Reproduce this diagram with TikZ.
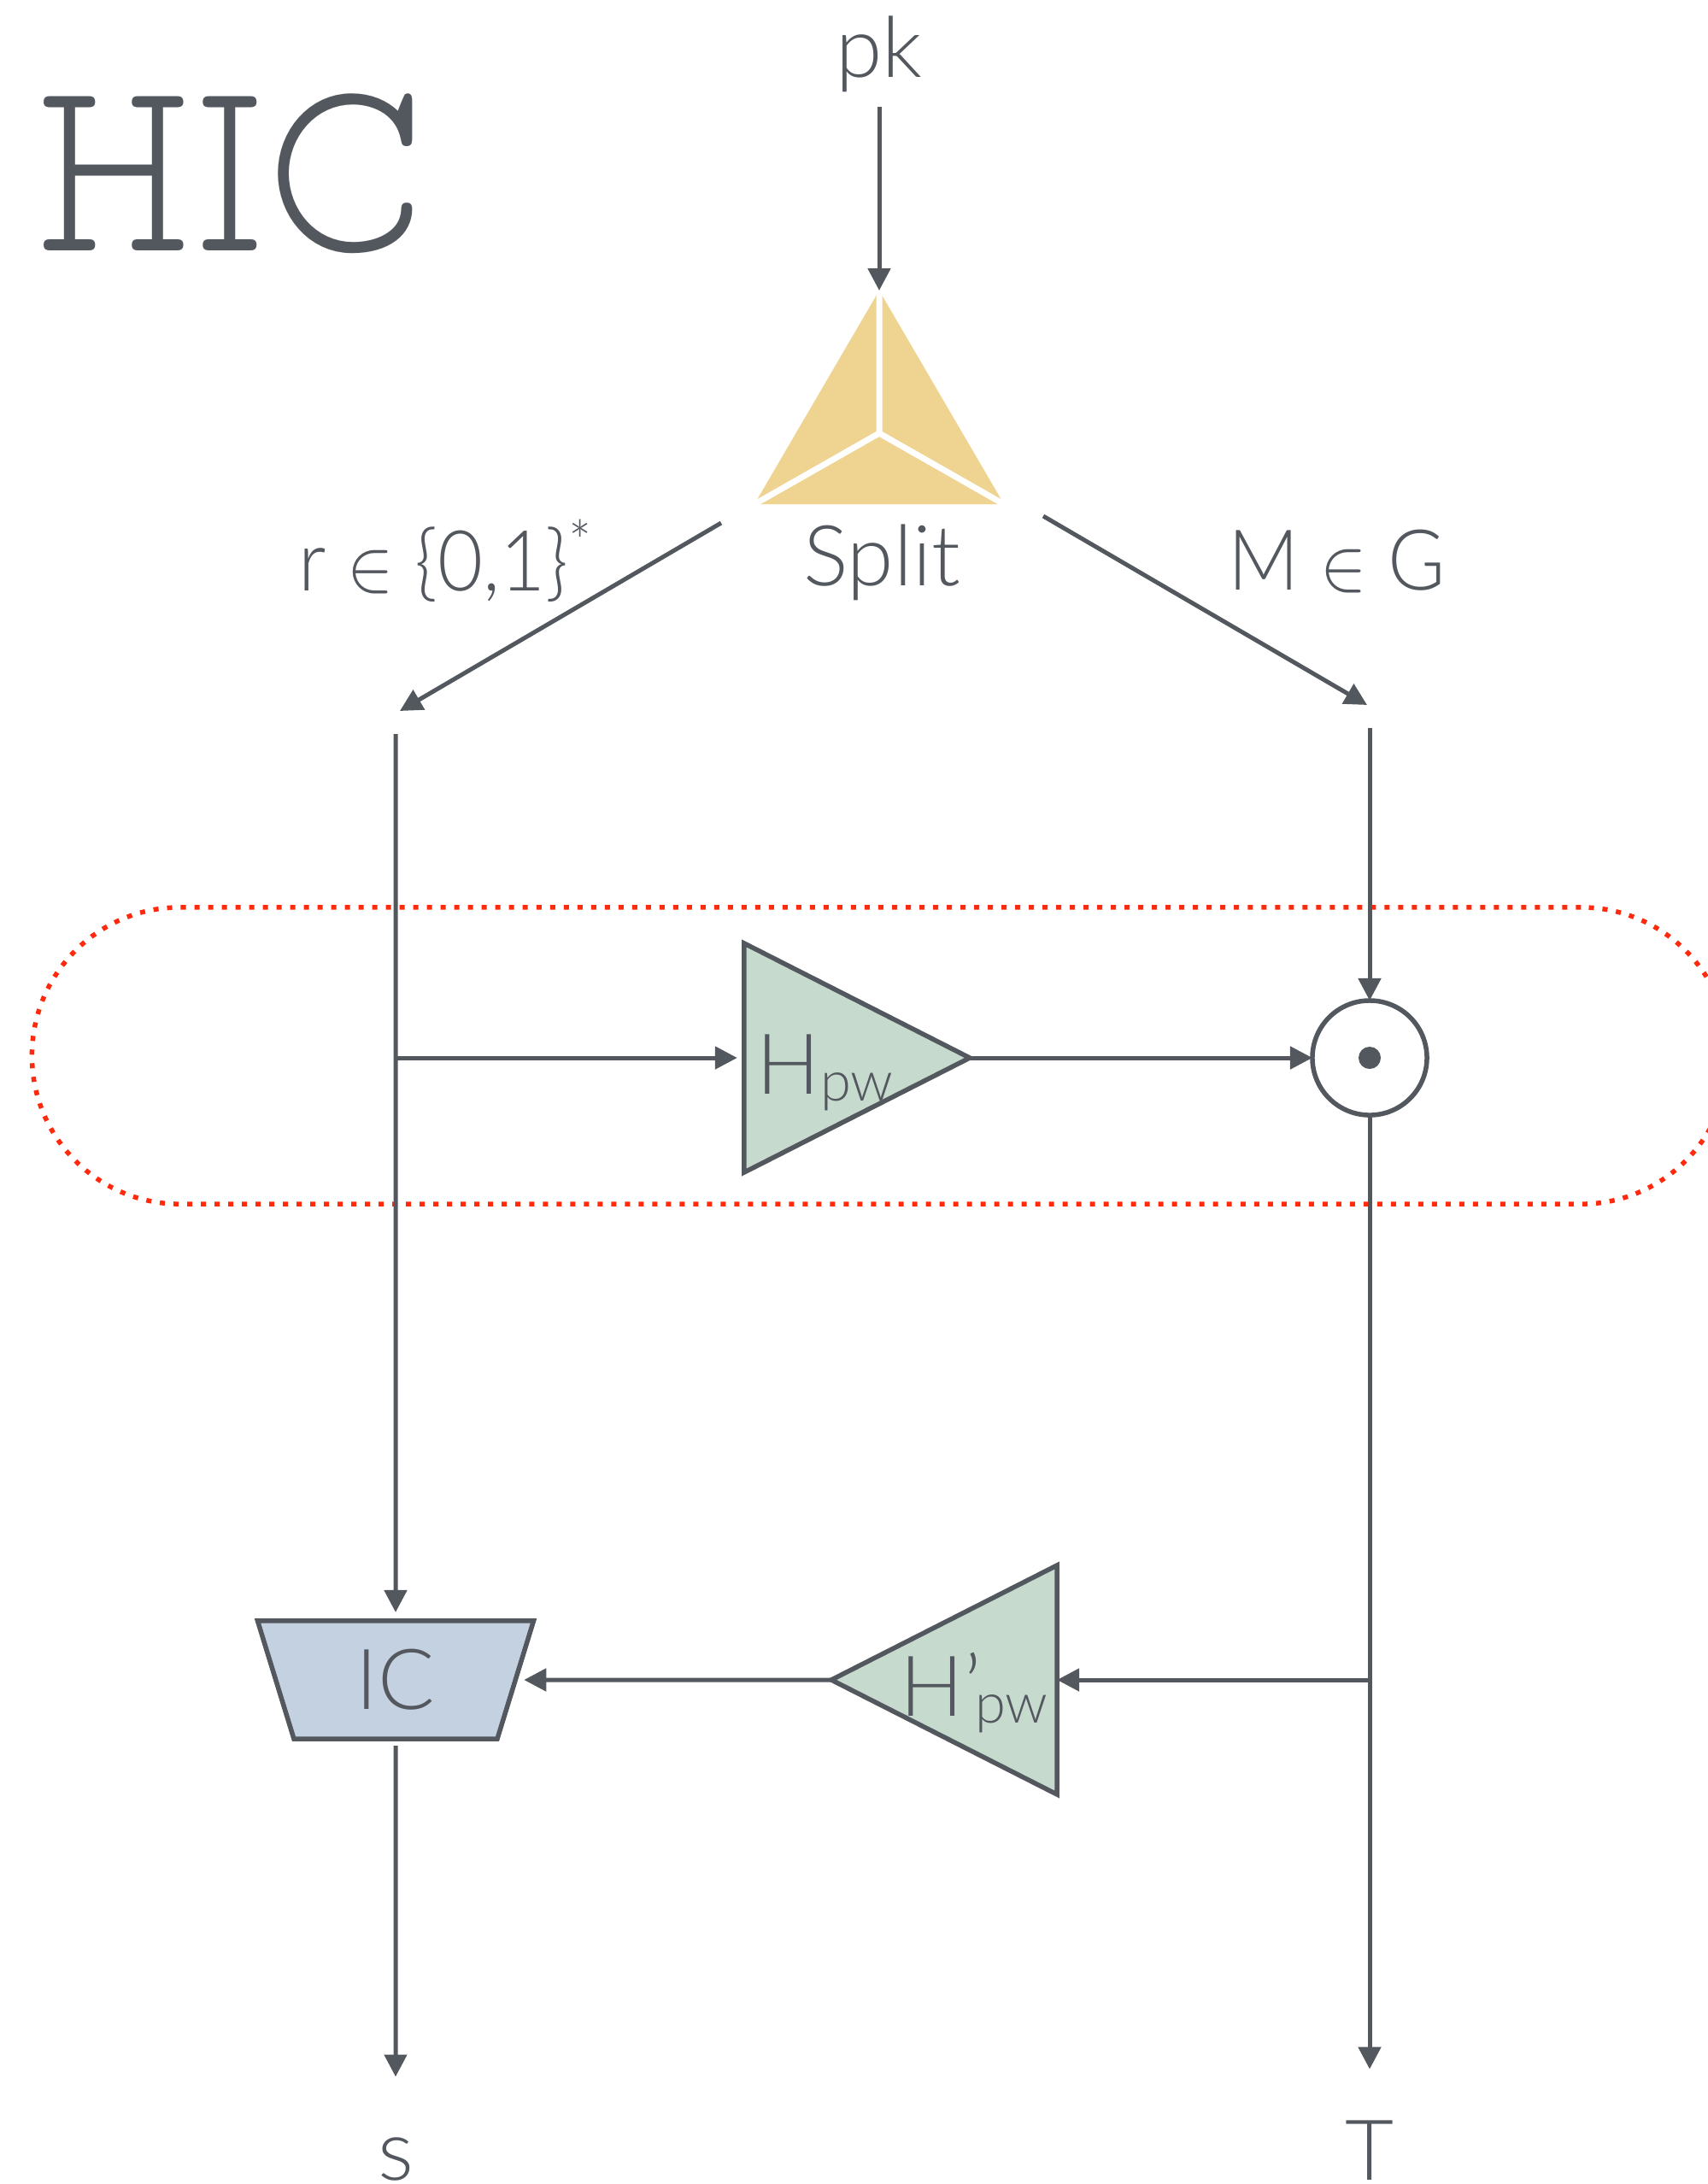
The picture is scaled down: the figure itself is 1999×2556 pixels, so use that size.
\documentclass[tikz,border=0pt]{standalone}
\usepackage{fontspec}
\usepackage{tikz}
\usetikzlibrary{arrows.meta}
\usetikzlibrary{shapes.geometric}
\newfontfamily\labelfont{Lato}[UprightFont=* Light]
\newfontfamily\titlefont{Latin Modern Mono Prop Light}
\definecolor{inkgray}{RGB}{83,87,94}
\definecolor{splittan}{RGB}{239,211,145}
\definecolor{hashgreen}{RGB}{198,218,206}
\definecolor{icblue}{RGB}{196,209,225}
\definecolor{dotred}{RGB}{255,42,13}
\newcommand{\pwsub}{\raisebox{-2.5pt}{\fontsize{18.5}{20}\selectfont pw}}

\begin{document}
\begin{tikzpicture}[
        x=0.01cm, y=-0.01cm,
        label/.style={text=inkgray, inner sep=0pt, anchor=base,
                      font=\labelfont\fontsize{28}{30}\selectfont},
        arrow/.style={-{Triangle[length=0.26cm, width=0.26cm]}, line width=0.05cm, draw=inkgray},
        hash/.style={isosceles triangle, isosceles triangle stretches, draw=inkgray,
                     fill=hashgreen, line width=0.055cm, inner sep=0pt, outer sep=0pt,
                     minimum width=2.68cm, minimum height=2.64cm},
        pillgroup/.style={draw=dotred, line width=0.055cm, dash pattern=on 0.06cm off 0.10cm,
                     rounded corners=1.73cm, minimum width=19.85cm, minimum height=3.47cm}
    ]
        \useasboundingbox (0,0) rectangle (1999,2556);

        \node[pillgroup] (group) at (1030.5,1235.5) {};

        \node[text=inkgray, inner sep=0pt, anchor=base, xscale=0.83,
              font=\titlefont\fontsize{84}{90}\selectfont] (title) at (269,293) {HIC};
        \node[label] (pk) at (1029,90) {pk};
        \node[label] (splitlabel) at (1032,685) {Split};
        \node[label, xscale=0.93] (rlabel) at (522,691) {r $\in$ \{0,1\}\textsuperscript{*}};
        \node[label, xscale=0.93] (mlabel) at (1565,690) {M $\in$ G};

        \node[isosceles triangle, isosceles triangle stretches, shape border rotate=90,
              fill=splittan, inner sep=0pt, outer sep=0pt, anchor=apex,
              minimum width=2.92cm, minimum height=2.50cm] (split) at (1029,340) {};
        \coordinate (splitmid) at (1029,507);
        \draw[white, line width=0.07cm] (split.apex) -- (splitmid) -- (split.left corner);
        \draw[white, line width=0.07cm] (splitmid) -- (split.right corner);

        \node[hash, anchor=apex] (hpw) at (1135,1238) {};
        \node[hash, anchor=apex, shape border rotate=180] (hpwprime) at (973,1966) {};
        \node[circle, draw=inkgray, line width=0.055cm, fill=white, minimum size=1.34cm,
              inner sep=0pt, outer sep=0pt] (mult) at (1603,1238) {};
        \node[circle, fill=inkgray, minimum size=0.26cm, inner sep=0pt] (multdot) at (1603,1238) {};
        \node[trapezium, trapezium stretches=true, shape border rotate=180, draw=inkgray,
              fill=icblue, line width=0.055cm, inner sep=0pt, outer sep=0pt,
              trapezium left angle=77, trapezium right angle=77, text=inkgray,
              font=\labelfont\fontsize{28}{30}\selectfont,
              minimum width=3.23cm, minimum height=1.38cm] (ic) at (463,1966) {IC};

        \node[label, anchor=base west] (hpwlabel) at (885,1280) {H\pwsub};
        \node[label, anchor=base west] (hpwprimelabel) at (1053,2008) {H’\kern-2pt\pwsub};
        \node[label] (s) at (463,2551) {s};
        \node[label] (t) at (1603,2551) {T};

        % free ends next to the splitter
        \coordinate (rstart) at (844,612);
        \coordinate (rend) at (468,832);
        \coordinate (mstart) at (1221,604);
        \coordinate (mend) at (1600,825);
        \coordinate (lefttop) at (463,859);
        \coordinate (righttop) at (1603,852);
        \coordinate (leftjoin) at (463,1238);
        \coordinate (rightjoin) at (1603,1966);

        \draw[arrow, shorten <=0.17cm] (pk.south) -- (split.apex);
        \draw[arrow] (rstart) -- (rend);
        \draw[arrow] (mstart) -- (mend);
        \draw[arrow, shorten >=0.10cm] (lefttop) -- (ic.north);
        \draw[arrow] (righttop) -- (mult.north);
        \draw[arrow, shorten >=0.08cm] (leftjoin) -- (hpw.lower side);
        \draw[arrow] (hpw.apex) -- (mult.west);
        \draw[arrow, shorten >=0.59cm] (mult.south) -- (t.north);
        \draw[arrow] (rightjoin) -- (hpwprime.lower side);
        \draw[arrow, shorten >=0.10cm] (hpwprime.apex) -- (ic.east);
        \draw[arrow, shorten <=0.08cm, shorten >=0.70cm] (ic.south) -- (s.north);
    \end{tikzpicture}
\end{document}
